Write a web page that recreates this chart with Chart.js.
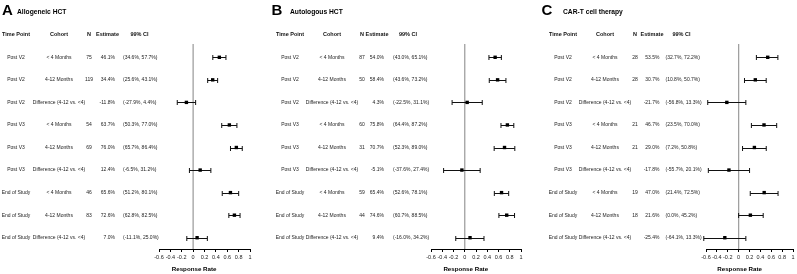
<!DOCTYPE html>
<html>
<head>
<meta charset="utf-8">
<script src="https://cdn.jsdelivr.net/npm/chart.js@4.4.1/dist/chart.umd.min.js"></script>
<style>
  html, body { margin: 0; padding: 0; background: #fff; }
  #wrap { position: relative; width: 797px; height: 274px; }
  canvas { position: absolute; top: 0; }
</style>
</head>
<body>
<div id="wrap">
  <canvas id="panelA" width="265" height="274" style="left:0"></canvas>
  <canvas id="panelB" width="265" height="274" style="left:265px"></canvas>
  <canvas id="panelC" width="267" height="274" style="left:530px"></canvas>
</div>
<script>
// rows shared by the three panels
const timePoints = ['Post V2', 'Post V2', 'Post V2', 'Post V3', 'Post V3', 'Post V3', 'End of Study', 'End of Study', 'End of Study'];
const cohorts = ['< 4 Months', '4-12 Months', 'Difference (4-12 vs. <4)', '< 4 Months', '4-12 Months', 'Difference (4-12 vs. <4)', '< 4 Months', '4-12 Months', 'Difference (4-12 vs. <4)'];
const xTicks = [-0.6, -0.4, -0.2, 0, 0.2, 0.4, 0.6, 0.8, 1];

// A: Allogeneic HCT (percent)
const allogN = [75, 119, null, 54, 69, null, 46, 83, null];
const allogEst = [46.1, 34.4, -11.8, 63.7, 76.0, 12.4, 65.6, 72.6, 7.0];
const allogLow = [34.6, 25.6, -27.9, 50.3, 65.7, -6.5, 51.2, 62.8, -11.1];
const allogHigh = [57.7, 43.1, 4.4, 77.0, 86.4, 31.2, 80.1, 82.5, 25.0];

// B: Autologous HCT
const autoN = [87, 50, null, 60, 31, null, 59, 44, null];
const autoEst = [54.0, 58.4, 4.3, 75.8, 70.7, -5.1, 65.4, 74.6, 9.4];
const autoLow = [43.0, 43.6, -22.5, 64.4, 52.3, -37.6, 52.6, 60.7, -16.0];
const autoHigh = [65.1, 73.2, 31.1, 87.2, 89.0, 27.4, 78.1, 88.5, 34.2];

// C: CAR-T cell therapy
const cartN = [28, 28, null, 21, 21, null, 19, 18, null];
const cartEst = [53.5, 30.7, -21.7, 46.7, 29.0, -17.8, 47.0, 21.6, -25.4];
const cartLow = [32.7, 10.8, -56.8, 23.5, 7.2, -55.7, 21.4, 0.0, -64.1];
const cartHigh = [72.2, 50.7, 13.3, 70.0, 50.8, 20.1, 72.5, 45.2, 13.3];

const FONT = '"Liberation Sans", Arial, sans-serif';
const pct = v => v.toFixed(1) + '%';

function forestPlugin(p) {
  return {
    id: 'forest',
    beforeDatasetsDraw(chart) {
      const { ctx, chartArea, scales: { x, y } } = chart;
      ctx.save();
      // reference line at 0
      const x0 = x.getPixelForValue(0);
      ctx.strokeStyle = '#a0a0a0';
      ctx.lineWidth = 1.3;
      ctx.beginPath();
      ctx.moveTo(x0, chartArea.top - 2);
      ctx.lineTo(x0, chartArea.bottom);
      ctx.stroke();
      // confidence intervals
      ctx.strokeStyle = '#111';
      ctx.lineWidth = 1;
      p.low.forEach((lo, i) => {
        const yy = Math.round(y.getPixelForValue(i)) + 0.5;
        const xl = x.getPixelForValue(lo / 100);
        const xr = x.getPixelForValue(p.high[i] / 100);
        ctx.beginPath();
        ctx.moveTo(xl, yy); ctx.lineTo(xr, yy);
        ctx.moveTo(xl, yy - 2.5); ctx.lineTo(xl, yy + 2.5);
        ctx.moveTo(xr, yy - 2.5); ctx.lineTo(xr, yy + 2.5);
        ctx.stroke();
      });
      ctx.restore();
    },
    afterDraw(chart) {
      const { ctx, scales: { x, y } } = chart;
      ctx.save();
      ctx.fillStyle = '#000';
      ctx.textBaseline = 'alphabetic';
      ctx.textAlign = 'left';
      ctx.font = 'bold 15px ' + FONT;
      ctx.fillText(p.letter, p.letterX, 15);
      ctx.font = 'bold 6.7px ' + FONT;
      ctx.fillText(p.title, p.titleX, 14);

      ctx.textBaseline = 'middle';
      ctx.fillStyle = '#111';
      ctx.font = 'bold 5.5px ' + FONT;
      const c = p.cols;
      ctx.textAlign = 'center';
      ctx.fillText('Time Point', c.time, 34);
      ctx.fillText('Cohort', c.cohort, 34);
      ctx.fillText('N', c.n, 34);
      ctx.fillText('Estimate', c.estHead, 34);
      ctx.fillText('99% CI', c.ciHead, 34);

      ctx.font = '5px ' + FONT;
      ctx.fillStyle = '#222';
      p.est.forEach((v, i) => {
        const yy = y.getPixelForValue(i);
        ctx.textAlign = 'center';
        ctx.fillText(timePoints[i], c.time, yy);
        ctx.fillText(cohorts[i], c.cohort, yy);
        if (p.n[i] !== null) ctx.fillText(String(p.n[i]), c.n, yy);
        ctx.textAlign = 'right';
        ctx.fillText(pct(v), c.est, yy);
        ctx.textAlign = 'left';
        ctx.fillText('(' + pct(p.low[i]) + ', ' + pct(p.high[i]) + ')', c.ci, yy);
      });

      // axis title
      ctx.fillStyle = '#000';
      ctx.textAlign = 'center';
      ctx.font = 'bold 6.2px ' + FONT;
      ctx.fillText('Response Rate', x.getPixelForValue(0) + 1, 269);
      ctx.restore();
    }
  };
}

function makeChart(id, p) {
  return new Chart(document.getElementById(id), {
    type: 'scatter',
    data: {
      datasets: [{
        data: p.est.map((v, i) => ({ x: v / 100, y: i })),
        pointStyle: 'rect',
        pointRadius: 2.4,
        backgroundColor: '#000',
        borderColor: '#000',
        borderWidth: 0
      }]
    },
    options: {
      responsive: false,
      animation: false,
      devicePixelRatio: 1,
      layout: { padding: { left: p.left, right: p.right, top: 46, bottom: 0 } },
      plugins: { legend: { display: false }, tooltip: { enabled: false } },
      scales: {
        x: {
          type: 'linear',
          min: xTicks[0],
          max: xTicks[xTicks.length - 1],
          afterFit: s => { s.height = 25; },
          afterBuildTicks: s => { s.ticks = xTicks.map(v => ({ value: v })); },
          ticks: {
            callback: v => String(+v.toFixed(1)),
            font: { family: FONT, size: 5.5 },
            color: '#222',
            padding: 2,
            maxRotation: 0,
            autoSkip: false
          },
          grid: { drawOnChartArea: false, drawTicks: true, tickLength: 3, color: '#000' },
          border: { display: true, color: '#000', width: 1 }
        },
        y: { display: false, min: -0.5, max: 8.5, reverse: true }
      }
    },
    plugins: [forestPlugin(p)]
  });
}

makeChart('panelA', {
  letter: 'A', letterX: 2, title: 'Allogeneic HCT', titleX: 17,
  left: 159, right: 15,
  cols: { time: 16, cohort: 59, n: 89, estHead: 107.5, est: 115, ciHead: 139.5, ci: 123 },
  n: allogN, est: allogEst, low: allogLow, high: allogHigh
});
makeChart('panelB', {
  letter: 'B', letterX: 6.5, title: 'Autologous HCT', titleX: 25,
  left: 166, right: 9,
  cols: { time: 25, cohort: 67, n: 97, estHead: 112, est: 119, ciHead: 143, ci: 128 },
  n: autoN, est: autoEst, low: autoLow, high: autoHigh
});
makeChart('panelC', {
  letter: 'C', letterX: 11.5, title: 'CAR-T cell therapy', titleX: 33,
  left: 176, right: 2,
  cols: { time: 33, cohort: 75, n: 105, estHead: 122, est: 129.5, ciHead: 151.5, ci: 135.5 },
  n: cartN, est: cartEst, low: cartLow, high: cartHigh
});
</script>
</body>
</html>
